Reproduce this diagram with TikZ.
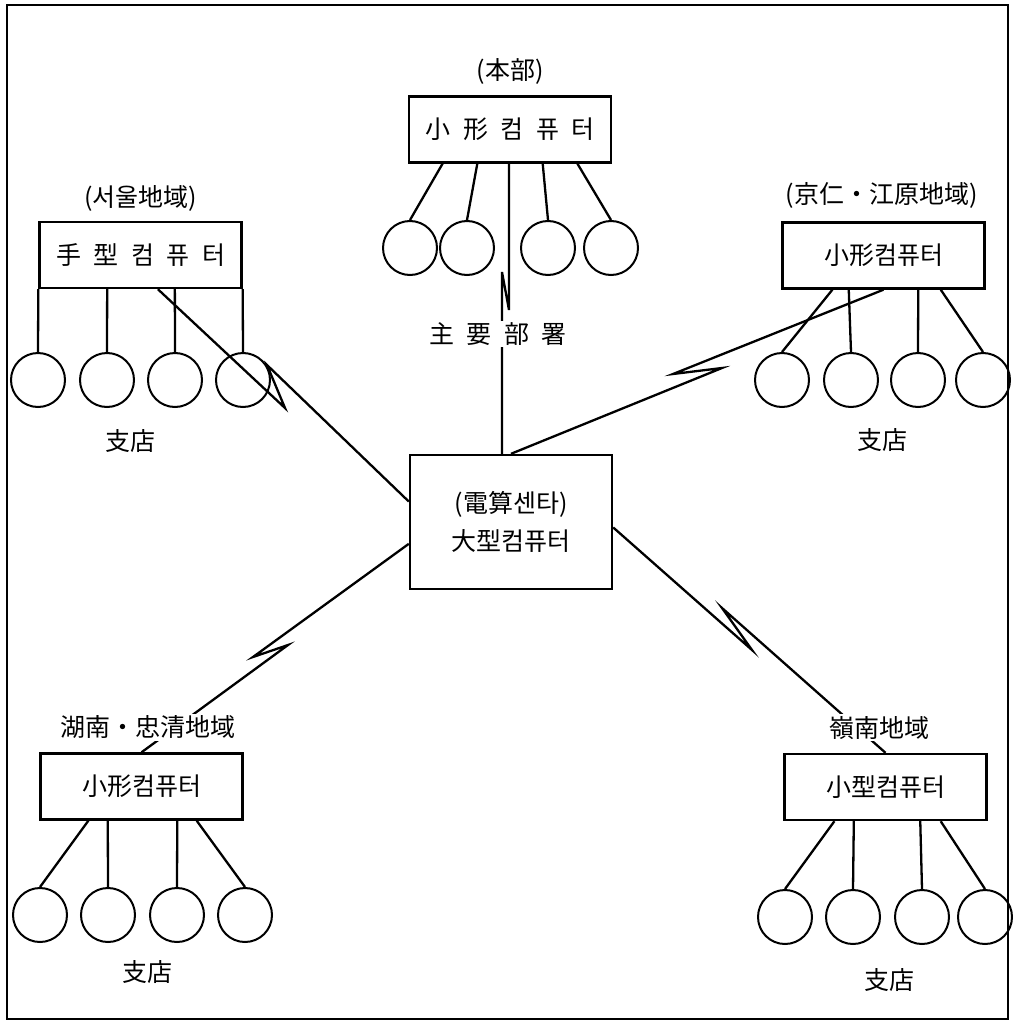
\documentclass[tikz,border=0pt]{standalone}
\usepackage{fontspec}
\setmainfont{Noto Sans CJK KR}
\usepackage{tikz}
\usetikzlibrary{calc,positioning}
\newcommand\kgap{\hspace{0.5em}}
\tikzset{
    %Define style for computer boxes
    compbox/.style={
           rectangle,
           draw=black, line width=1.2pt,
           minimum width=101pt,
           minimum height=33pt,
           font=\fontsize{12.5pt}{14pt}\selectfont,
           text centered},
    mainbox/.style={
           compbox,
           minimum height=67pt,
           align=center,
           font=\fontsize{12.5pt}{19pt}\selectfont},
    %Define style for branch terminals
    branch/.style={
           circle,
           draw=black, line width=1pt,
           minimum size=27pt,
           inner sep=0pt},
    region/.style={
           fill=white,
           inner sep=1pt,
           font=\fontsize{12.5pt}{14pt}\selectfont},
    % Define line style
    link/.style={
           line width=1.15pt},
}
\begin{document}
\begin{tikzpicture}[x=0.5pt,y=-0.5pt,node distance=6pt]
\useasboundingbox (0,0) rectangle (1012,1022);
\draw[line width=1.4pt] (7,5) rectangle (1008,1019);
% computers
\node[compbox](hq) at (510,129.5){小\kgap 形\kgap 컴\kgap 퓨\kgap 터};
\node[compbox](seoul) at (140.5,255){手\kgap 型\kgap 컴\kgap 퓨\kgap 터};
\node[compbox](keijin) at (883.5,255.5){小形컴퓨터};
\node[mainbox](center) at (511,522){(電算센타)\\ 大型컴퓨터};
\node[compbox](honam) at (141.5,786.5){小形컴퓨터};
\node[compbox](yeongnam) at (885.5,787){小型컴퓨터};
% terminals
\foreach \x [count=\i] in {410,467,548,611}
  \node[branch](hq-\i) at (\x,248){};
\foreach \x [count=\i] in {38,107,175,243}
  \node[branch](seoul-\i) at (\x,380){};
\foreach \x [count=\i] in {782,851,918,983}
  \node[branch](keijin-\i) at (\x,380){};
\foreach \x [count=\i] in {40,108,177,245}
  \node[branch](honam-\i) at (\x,915){};
\foreach \x [count=\i] in {785,853,922,985}
  \node[branch](yeongnam-\i) at (\x,917){};
\foreach \f [count=\i] in {.17,.34,.66,.83}
  \draw[link] ($(hq.south west)!\f!(hq.south east)$) -- (hq-\i.north);
\foreach \f [count=\i] in {0,.337,.668,1}
  \draw[link] ($(seoul.south west)!\f!(seoul.south east)$) -- (seoul-\i.north);
\foreach \f [count=\i] in {.25,.33,.67,.78}
  \draw[link] ($(keijin.south west)!\f!(keijin.south east)$) -- (keijin-\i.north);
\foreach \f [count=\i] in {.24,.335,.675,.77}
  \draw[link] ($(honam.south west)!\f!(honam.south east)$) -- (honam-\i.north);
\foreach \f [count=\i] in {.25,.345,.67,.77}
  \draw[link] ($(yeongnam.south west)!\f!(yeongnam.south east)$) -- (yeongnam-\i.north);
% lines to the computing centre
\coordinate (hqa) at (509,310);
\coordinate (hqb) at (502,272);
\draw[link] (hq.south -| hqa) -- (hqa) -- (hqb) -- (hqb |- center.north);
\coordinate (sa) at (285,408);
\coordinate (sb) at (267,365);
\draw[link] ($(seoul.south west)!.585!(seoul.south east)$) -- (sa) -- (sb)
  -- ($(center.north west)!.35!(center.south west)$);
\coordinate (ka) at (722,368);
\coordinate (kb) at (673,374);
\draw[link] (center.north) -- (ka) -- (kb) -- (keijin.south);
\coordinate (na) at (253,657);
\coordinate (nb) at (288,645);
\draw[link] ($(center.north west)!.66!(center.south west)$) -- (na) -- (nb) -- (honam.north);
\coordinate (ya) at (752,650);
\coordinate (yb) at (722,608);
\draw[link] ($(center.north east)!.54!(center.south east)$) -- (ya) -- (yb) -- (yeongnam.north);
% labels
\node[region, above=4pt of hq](hqlabel){(本部)};
\node[region, above=3.5pt of seoul](seoullabel){(서울地域)};
\node[region, above=5.5pt of keijin, xshift=-1pt](keijinlabel){(京仁・江原地域)};
\node[region, above=5.5pt of honam, xshift=3pt](honamlabel){湖南・忠清地域};
\node[region, above=5.5pt of yeongnam, xshift=-3pt](yeongnamlabel){嶺南地域};
\node[region](dept) at (498,334){主\kgap 要\kgap 部\kgap 署};
\node[region](seoulbr) at (130,441){支店};
\node[region](keijinbr) at (882,440){支店};
\node[region](honambr) at (147,972){支店};
\node[region](yeongnambr) at (889,980){支店};
\end{tikzpicture}
\end{document}
